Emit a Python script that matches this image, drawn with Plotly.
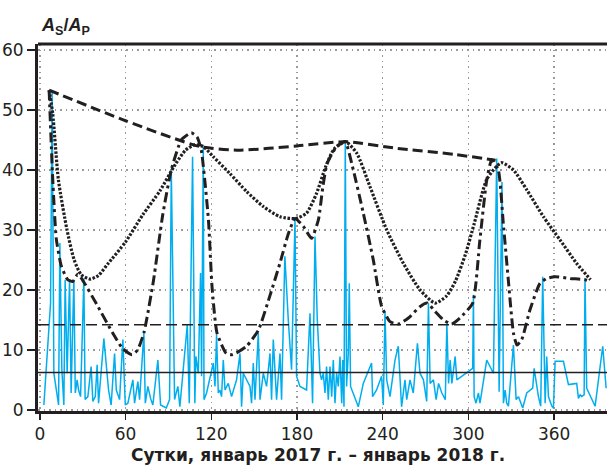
import plotly.graph_objects as go

# ---- data ----
blue_days = [2.8, 7.5, 8.6, 9.8, 13.1, 14.0, 15.4, 16.8, 17.7, 19.1, 20.8, 21.9, 23.1, 23.8, 24.8, 26.1, 27.1, 28.5,
             30.8, 31.7, 33.6, 35.9, 37.1, 38.8, 40.1, 41.1, 44.8, 46.5, 48.1, 49.9, 52.3, 53.5, 55.8, 58.1, 59.8,
             61.6, 65.1, 66.3, 68.6, 69.8, 72.8, 73.8, 75.6, 77.5, 79.1, 82.6, 84.5, 88.5, 90.8, 92.0, 94.3, 96.6,
             98.0, 103.2, 104.6, 106.9, 107.8, 108.5, 109.2, 110.9, 112.5, 113.2, 114.4, 114.9, 116.7, 119.5, 121.4,
             122.6, 123.7, 124.9, 126.0, 127.2, 128.4, 129.6, 131.9, 134.2, 137.7, 140.1, 141.2, 142.4, 144.7, 147.1,
             148.2, 149.4, 150.6, 152.9, 154.1, 156.4, 158.7, 161.1, 162.2, 163.4, 165.7, 168.1, 169.2, 171.5, 173.9,
             176.2, 178.6, 179.7, 182.1, 186.7, 189.1, 190.9, 192.6, 194.2, 196.1, 197.2, 198.4, 199.6, 200.7, 201.9,
             203.1, 204.3, 205.4, 206.6, 207.7, 208.9, 210.1, 211.3, 212.0, 212.9, 213.8, 214.7, 215.9, 216.6, 217.5,
             219.4, 222.9, 226.4, 232.2, 232.9, 235.7, 239.2, 240.4, 241.6, 242.8, 245.1, 248.6, 250.9, 252.1, 253.2,
             255.6, 256.8, 259.1, 261.4, 264.3, 266.1, 268.5, 270.8, 272.0, 273.2, 275.5, 277.4, 279.1, 281.4, 283.8,
             284.9, 286.1, 287.2, 288.4, 289.6, 290.7, 291.9, 303.0, 303.5, 304.0, 305.3, 307.0, 308.1, 312.8, 317.5,
             319.8, 321.5, 323.5, 324.5, 325.7, 326.8, 328.0, 331.5, 333.4, 335.0, 338.0, 340.8, 345.0, 346.0, 349.0,
             350.6, 352.0, 353.7, 354.8, 356.0, 358.4, 359.5, 360.7, 366.5, 370.0, 375.8, 377.0, 378.2, 379.3, 381.0,
             381.6, 382.8, 386.3, 388.7, 394.0, 396.4]
blue_vals = [0.8, 17.8, 53.3, 6.1, 0.8, 27.8, 6.7, 0.8, 21.7, 6.1, 21.7, 2.8, 15.0, 21.7, 2.8, 5.0, 3.3, 2.2,
             21.9, 1.7, 2.2, 7.2, 1.4, 2.2, 7.5, 1.1, 11.9, 6.7, 3.3, 0.8, 9.4, 3.3, 1.7, 11.7, 0.8,
             1.1, 5.0, 1.1, 4.7, 1.7, 12.8, 1.1, 3.9, 1.9, 0.8, 8.3, 0.8, 0.3, 1.7, 40.0, 1.7, 3.9,
             0.5, 14.2, 1.1, 42.2, 9.4, 1.1, 8.9, 6.1, 22.8, 5.6, 43.9, 1.7, 2.8, 5.6, 7.8,
             3.9, 12.5, 2.8, 3.3, 2.2, 8.3, 3.3, 4.4, 2.2, 5.0, 9.4, 0.5, 6.1, 5.0, 3.9,
             1.1, 7.8, 1.7, 12.8, 1.7, 6.1, 3.9, 9.4, 1.7, 11.7, 1.7, 9.4, 1.7, 25.6, 15.0,
             6.7, 31.7, 5.6, 3.9, 3.3, 16.1, 1.1, 28.9, 15.0, 6.1, 5.0, 6.1, 2.8, 7.2, 1.7,
             7.2, 2.2, 8.3, 1.1, 6.1, 3.9, 8.9, 1.1, 8.3, 0.5, 44.7, 3.9, 9.4, 21.1, 3.9,
             2.8, 0.5, 4.4, 7.8, 2.2, 3.3, 5.6, 0.8, 16.4, 5.0, 2.2, 8.3, 10.6, 4.4, 0.5,
             5.0, 1.7, 5.0, 2.8, 11.1, 6.1, 5.0, 1.4, 17.8, 4.4, 5.0, 1.7, 4.4, 2.8, 1.7,
             14.4, 4.4, 8.3, 4.4, 7.2, 8.9, 5.0, 6.9, 19.2, 2.2, 1.1, 2.8, 1.1, 8.3, 6.1,
             41.9, 3.0, 38.0, 1.1, 3.3, 1.1, 0.6, 10.8, 1.7, 2.2, 0.3, 2.8, 3.6, 6.9, 2.2,
             0.6, 22.2, 1.1, 8.9, 2.2, 0.6, 0.3, 8.1, 8.1, 4.2, 4.4, 1.9, 2.5, 2.2, 2.5,
             21.9, 3.6, 1.7, 0.6, 10.6, 3.6]

env_days = [6.5, 60, 112, 140, 180, 214, 250, 290, 319]
env_vals = [53.3, 48.2, 43.9, 43.3, 44.0, 44.7, 43.6, 42.6, 41.6]

dot_days = [6.5, 9, 13, 19, 24, 29, 35, 41, 47.5, 60, 72, 84, 95, 102, 108.5, 114.4, 121.4, 133, 144.7,
            156.4, 168.1, 179, 186.7, 193.7, 200, 206, 214, 221.8, 231.1, 242.8, 254.5, 266.1, 276.6,
            284.8, 291, 298, 304, 313, 323, 331.5, 340.8, 352.5, 364.2, 375.8, 385.5]
dot_vals = [53.3, 49.4, 38.3, 30, 25, 22.5, 21.8, 22.4, 24.3, 28, 32.5, 36.5, 41, 43.3, 44.2, 43.9, 42.2, 39.4, 36.4,
            33.9, 32.2, 31.9, 32.8, 36.1, 40.5, 43.5, 44.7, 42.8, 37.2, 30, 24.4, 20, 17.8,
            19, 21.5, 26, 31, 38.5, 41.2, 40, 36.7, 32.2, 28.3, 24.4, 21.7]

dd_days = [6.5, 9, 11.5, 15, 19.5, 23, 26.5, 30, 40, 51, 58, 64.5, 68.5, 73, 79.5, 86, 92, 99, 106, 110, 113,
           118, 120.5, 124, 130.5, 135, 144.7, 153, 161, 168, 174, 178.6, 184.4, 190.2, 195, 198, 201, 207.7,
           213.7, 219.4, 226.4, 233.4, 239.3, 245.1, 251, 258, 266, 271.2, 276.6, 282.4, 288.2, 294, 303, 308,
           312.8, 316.3, 320.9, 324.4, 327.9, 331.5, 334, 337.3, 343.1, 350.1, 354.8, 360.7, 371.2, 381.7, 385.5]
dd_vals = [53.3, 38.5, 28.5, 24, 21.7, 21.4, 22.6, 21.6, 17.5, 12.8, 10.2, 9.2, 10, 13, 21.5, 32.5, 40, 45, 46.2,
           45.5, 43.3, 31.7, 20.6, 12.8, 9.4, 9.2, 10.6, 13.3, 19, 24.4, 29.4, 31.9, 30.6, 28.6, 31.7, 37, 41,
           43.9, 44.7, 40, 32.8, 25, 17.2, 14.7, 14.3, 15.3, 17.2, 17.8, 16.4, 15, 14.3, 15.3, 17.8, 28.3,
           38.3, 41.7, 40, 31.1, 21.7, 12.8, 10.8, 11.7, 16.7, 21.1, 21.9, 22.2, 21.9, 21.7, 21.4]

level_high = 14.2
level_low = 6.2

x_ticks = [0, 60, 120, 180, 240, 300, 360]
y_ticks = [0, 10, 20, 30, 40, 50, 60]

INK = "#231f20"
BLUE = "#00aeef"
FONT = "Liberation Sans, Arial, sans-serif"
WIDE = "DejaVu Sans, Liberation Sans, sans-serif"

fig = go.Figure()
fig.add_trace(go.Scatter(x=blue_days, y=blue_vals, mode="lines",
                         line=dict(color=BLUE, width=1.5), hoverinfo="skip"))
fig.add_trace(go.Scatter(x=env_days, y=env_vals, mode="lines",
                         line=dict(color=INK, width=3, dash="10px,5px", shape="spline", smoothing=0.6)))
fig.add_trace(go.Scatter(x=dot_days, y=dot_vals, mode="lines",
                         line=dict(color=INK, width=3.2, dash="2.5px,1.6px", shape="spline", smoothing=0.6)))
fig.add_trace(go.Scatter(x=dd_days, y=dd_vals, mode="lines",
                         line=dict(color=INK, width=3, dash="10px,4px,3px,4px", shape="spline", smoothing=0.5)))

# horizontal reference levels
fig.add_shape(type="line", xref="paper", x0=0, x1=1, yref="y", y0=level_high, y1=level_high,
              line=dict(color=INK, width=1.5, dash="11px,5px"))
fig.add_shape(type="line", xref="paper", x0=0, x1=1, yref="y", y0=level_low, y1=level_low,
              line=dict(color=INK, width=1.5))
# top frame line
fig.add_shape(type="line", xref="paper", x0=0, x1=1, yref="paper", y0=1, y1=1,
              line=dict(color=INK, width=3))

fig.update_layout(
    width=607, height=466,
    margin=dict(l=38, r=0, t=44, b=55),
    paper_bgcolor="white", plot_bgcolor="white",
    showlegend=False,
    font=dict(family=FONT, color=INK, size=17),
    xaxis=dict(range=[-1.3, 397], tickvals=x_ticks, ticks="outside", ticklen=6, tickwidth=1.5,
               tickcolor=INK, showline=True, linecolor=INK, linewidth=3,
               showgrid=True, gridcolor="#9a9a9a", gridwidth=1.5, griddash="1.5px,4px",
               zeroline=False, automargin=False, tickfont=dict(size=17, family=WIDE, color=INK)),
    yaxis=dict(range=[-0.2, 61.0], tickvals=y_ticks, ticks="outside", ticklen=8, tickwidth=1.5,
               tickcolor=INK, showline=True, linecolor=INK, linewidth=3,
               showgrid=True, gridcolor="#9a9a9a", gridwidth=1.5, griddash="1.5px,4px",
               zeroline=False, automargin=False, tickfont=dict(size=17, family=WIDE, color=INK)),
)

fig.add_annotation(xref="paper", yref="paper", x=0.002, y=1.049, xanchor="left", yanchor="middle",
                   showarrow=False,
                   text="<b><i>A</i></b><sub><b>S</b></sub><b>/</b><b><i>A</i></b><sub><b>P</b></sub>",
                   font=dict(size=18, family=FONT, color=INK))
fig.add_annotation(xref="paper", yref="paper", x=0.492, y=-0.119, xanchor="center", yanchor="middle",
                   showarrow=False,
                   text="<b>Сутки, январь 2017 г. – январь 2018 г.</b>",
                   font=dict(size=17, family=WIDE, color=INK))

fig.write_html("out.html", config={"displayModeBar": False, "staticPlot": True})

# remove the browser's default page margin so the figure sits at (0, 0)
with open("out.html", "r", encoding="utf-8") as f:
    html = f.read()
html = html.replace("<head>", "<head><style>html,body{margin:0;padding:0;overflow:hidden;}</style>", 1)
with open("out.html", "w", encoding="utf-8") as f:
    f.write(html)
